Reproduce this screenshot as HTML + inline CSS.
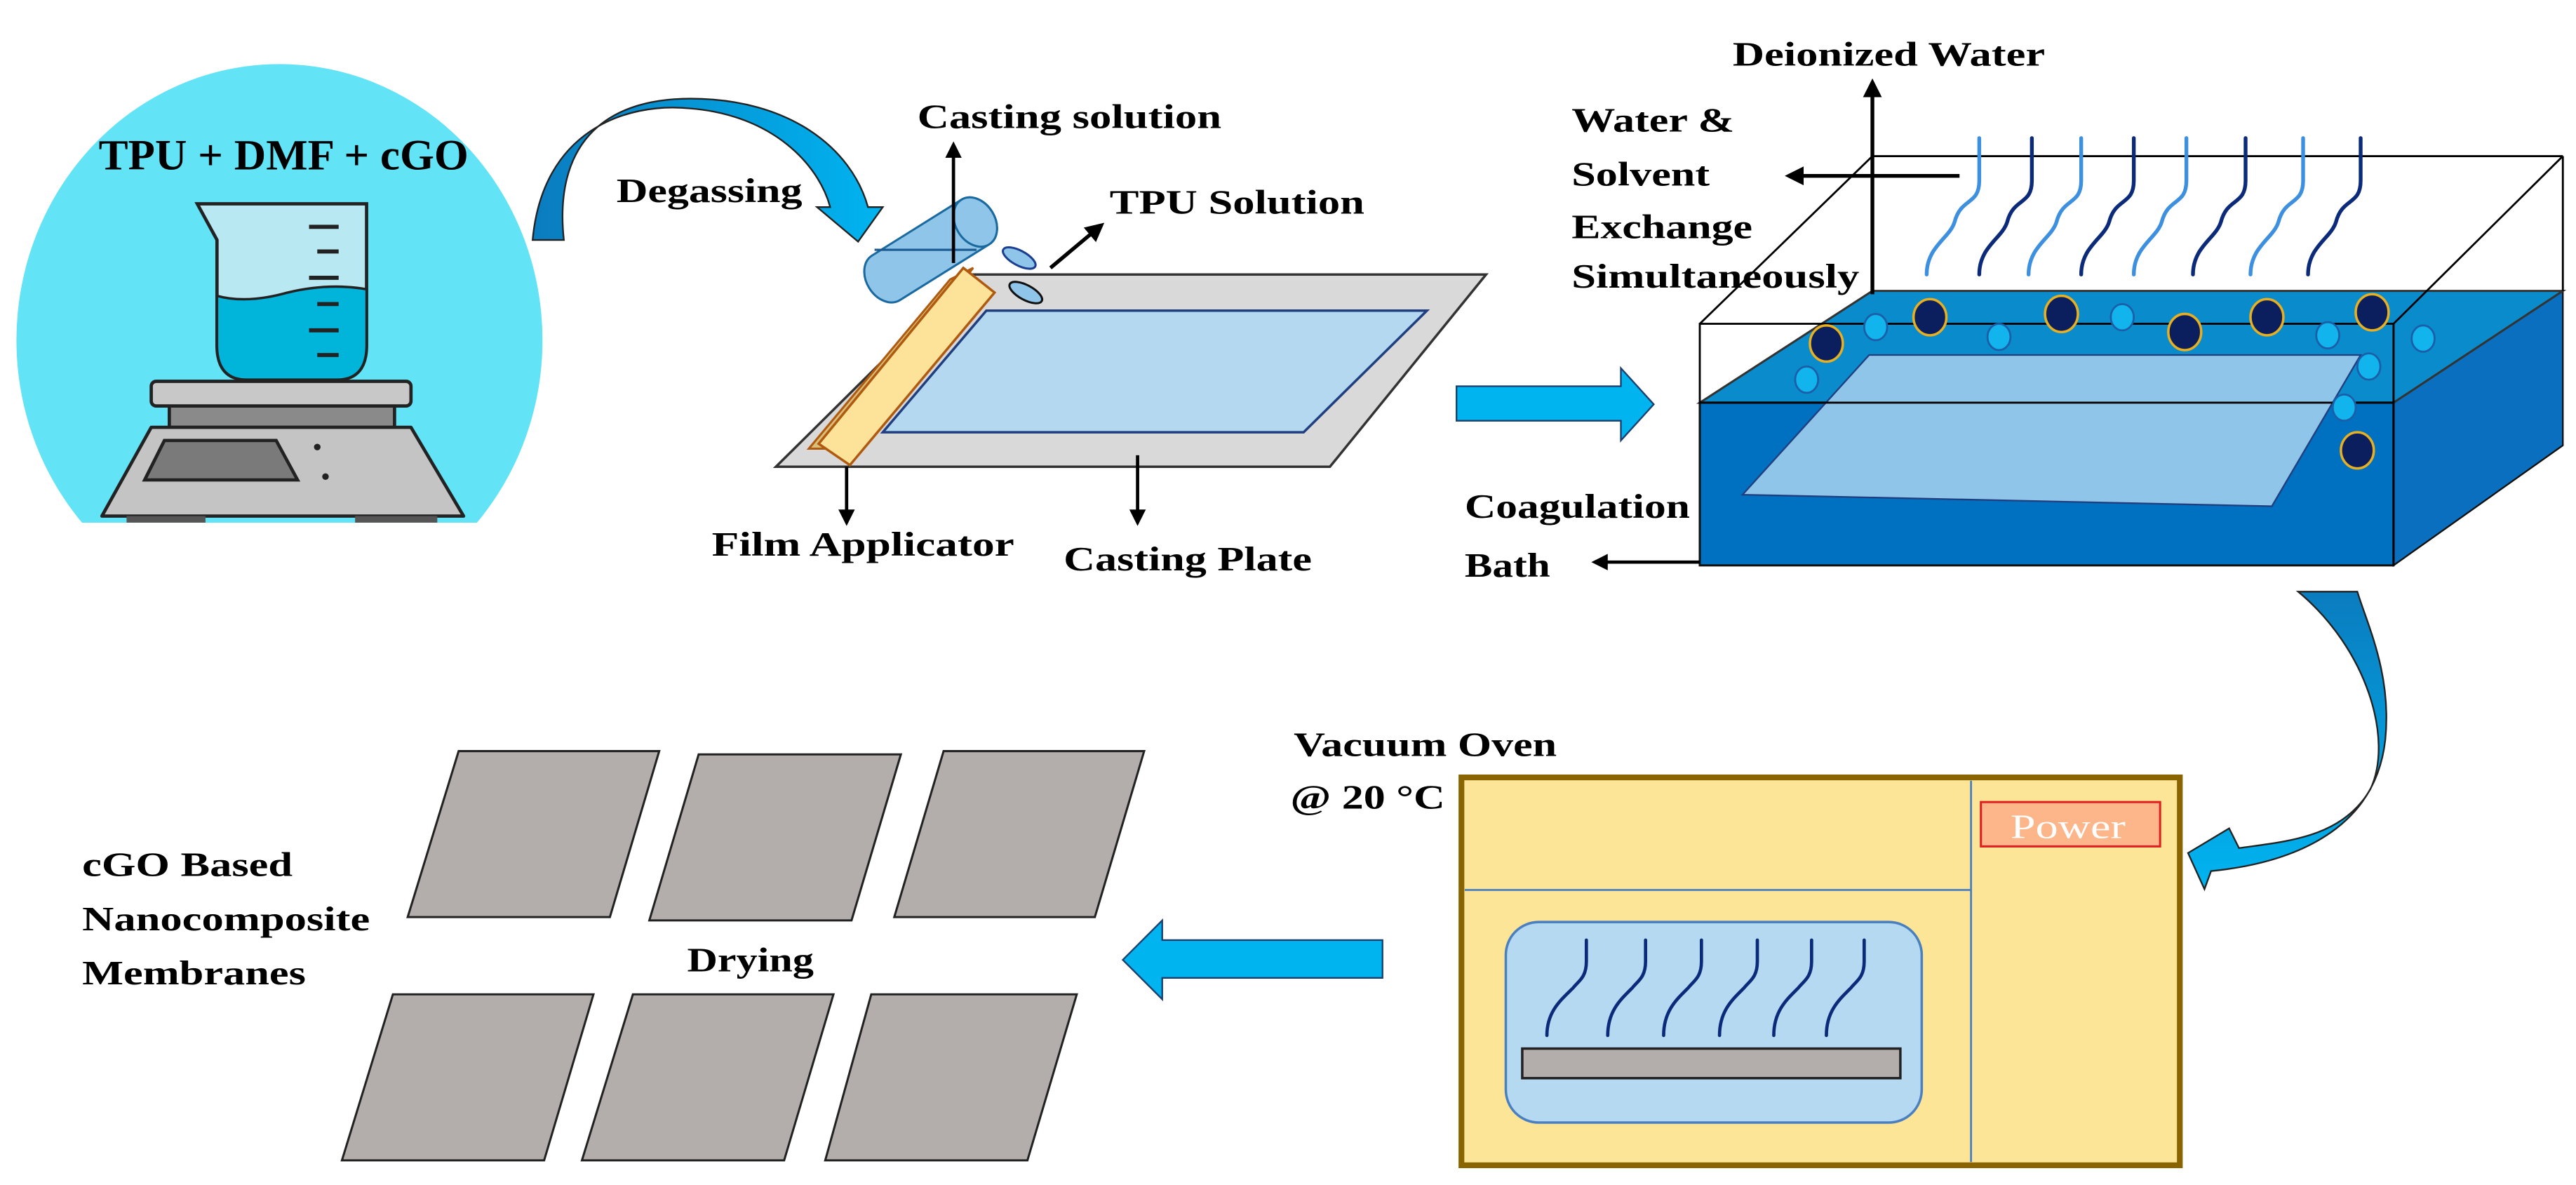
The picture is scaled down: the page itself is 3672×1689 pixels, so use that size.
<!DOCTYPE html>
<html><head><meta charset="utf-8"><style>
html,body{margin:0;padding:0;background:#fff;}
svg{display:block;}
text{font-family:"Liberation Serif",serif;font-weight:bold;fill:#000;}
</style></head><body>
<svg width="3672" height="1689" viewBox="0 0 1567 721" preserveAspectRatio="none" xmlns="http://www.w3.org/2000/svg">
<defs>
<marker id="ah" viewBox="0 0 10 10" refX="8" refY="5" markerWidth="5" markerHeight="5" orient="auto"><path d="M0,0 L10,5 L0,10 Z" fill="#000"/></marker>
<clipPath id="cc"><rect x="0" y="0" width="400" height="318"/></clipPath>
<linearGradient id="ga" x1="0" y1="0" x2="1" y2="0"><stop offset="0" stop-color="#0a7cbf"/><stop offset="1" stop-color="#00b4f0"/></linearGradient>
<linearGradient id="gb" x1="0" y1="0" x2="0" y2="1"><stop offset="0" stop-color="#0a7cbf"/><stop offset="1" stop-color="#00b4f0"/></linearGradient>
</defs>

<ellipse cx="170" cy="207" rx="160" ry="168" fill="#62e3f6" clip-path="url(#cc)"/>
<text x="60" y="103" font-size="26" textLength="225" lengthAdjust="spacingAndGlyphs">TPU + DMF + cGO</text>
<path d="M120,124 L223,124 L223,210 Q223,231 205,231 L150,231 Q132,231 132,210 L132,146 Z" fill="#b8e8f2" stroke="#222" stroke-width="2"/>
<path d="M132,180 Q150,185 175,178 Q200,172 223,176 L223,210 Q223,231 205,231 L150,231 Q132,231 132,210 Z" fill="#00b4da" stroke="#222" stroke-width="1.5"/>
<g stroke="#222" stroke-width="2.5">
<line x1="188" y1="138" x2="206" y2="138"/><line x1="193" y1="153" x2="206" y2="153"/><line x1="188" y1="169" x2="206" y2="169"/>
<line x1="193" y1="185" x2="206" y2="185"/><line x1="188" y1="201" x2="206" y2="201"/><line x1="193" y1="216" x2="206" y2="216"/>
</g>
<rect x="103" y="246" width="137" height="14" fill="#8a8a8a" stroke="#222" stroke-width="2"/>
<rect x="92" y="232" width="158" height="15" rx="3" fill="#c8c8c8" stroke="#222" stroke-width="2"/>
<path d="M92,260 L250,260 L282,314 L62,314 Z" fill="#c4c4c4" stroke="#222" stroke-width="2" stroke-linejoin="round"/>
<path d="M100,268 L168,268 L181,292 L88,292 Z" fill="#7a7a7a" stroke="#222" stroke-width="2"/>
<circle cx="193" cy="272" r="2" fill="#222"/><circle cx="198" cy="290" r="2" fill="#222"/>
<rect x="77" y="314" width="48" height="4" fill="#555"/><rect x="216" y="314" width="50" height="4" fill="#555"/>

<path d="M324,146 C330,80 380,62 420,66 C470,70 498,100 505,126 L497,126 L522,147 L537,126 L528,126 C518,90 480,60 420,60 C365,60 337,90 343,146 Z" fill="url(#ga)" stroke="#222" stroke-width="1"/>
<text x="375" y="123" font-size="21" textLength="113" lengthAdjust="spacingAndGlyphs">Degassing</text>

<polygon points="590,167 904,167 809,284 472,284" fill="#d9d9d9" stroke="#333" stroke-width="1.5"/>
<polygon points="600,189 868,189 793,263 537,263" fill="#b3d8ef" stroke="#1f3f80" stroke-width="1.5"/>
<polygon points="578,170 592,163 505,273 492,273" fill="#d9c07a" stroke="#b05a10" stroke-width="1.3"/>
<polygon points="586,163 605,178 517,283 498,270" fill="#fde39a" stroke="#b05a10" stroke-width="1.5"/>
<g transform="translate(539,169) rotate(-32)">
<path d="M0,-16 L64,-16 A12,16 0 0 1 64,16 L0,16 A12,16 0 0 1 0,-16 Z" fill="#8fc5e8" stroke="#1a6aa0" stroke-width="1.3"/>
<ellipse cx="64" cy="0" rx="12" ry="16" fill="#8fc5e8" stroke="#1a6aa0" stroke-width="1.3"/>
</g>
<line x1="532" y1="152" x2="594" y2="152" stroke="#1a5a90" stroke-width="1.3"/>
<ellipse cx="620" cy="157" rx="11" ry="4.5" transform="rotate(28 620 157)" fill="#8fc5e8" stroke="#1a3f90" stroke-width="1.3"/>
<ellipse cx="624" cy="178" rx="11" ry="4.5" transform="rotate(28 624 178)" fill="#8fc5e8" stroke="#111" stroke-width="1.3"/>
<line x1="580" y1="160" x2="580" y2="88" stroke="#000" stroke-width="2" marker-end="url(#ah)"/>
<line x1="639" y1="163" x2="670" y2="137" stroke="#000" stroke-width="2.3" marker-end="url(#ah)"/>
<line x1="515" y1="284" x2="515" y2="318" stroke="#000" stroke-width="2" marker-end="url(#ah)"/>
<line x1="692" y1="277" x2="692" y2="318" stroke="#000" stroke-width="2" marker-end="url(#ah)"/>
<text x="558" y="78" font-size="21" textLength="185" lengthAdjust="spacingAndGlyphs">Casting solution</text>
<text x="675" y="130" font-size="21" textLength="155" lengthAdjust="spacingAndGlyphs">TPU Solution</text>
<text x="433" y="338" font-size="21" textLength="184" lengthAdjust="spacingAndGlyphs">Film Applicator</text>
<text x="647" y="347" font-size="21" textLength="151" lengthAdjust="spacingAndGlyphs">Casting Plate</text>

<polygon points="886,235 986,235 986,224 1006,246 986,268 986,256 886,256" fill="#00b4f0" stroke="#1a3f6f" stroke-width="1"/>

<polygon points="1456,245 1559,177 1559,271 1456,344" fill="#0a6fbf" stroke="#111" stroke-width="1"/>
<polygon points="1139,177 1559,177 1456,245 1034,245" fill="#0a8ccc" stroke="#333" stroke-width="1.3"/>
<rect x="1034" y="245" width="422" height="99" fill="#0070c0" stroke="#111" stroke-width="1.3"/>
<polygon points="1137,216 1436,216 1382,308 1060,301" fill="#8fc5e8" stroke="#1f3f80" stroke-width="1"/>
<g fill="none" stroke="#000" stroke-width="1.2">
<line x1="1139" y1="95" x2="1559" y2="95"/>
<line x1="1139" y1="95" x2="1034" y2="197"/>
<line x1="1559" y1="95" x2="1456" y2="197"/>
<line x1="1559" y1="95" x2="1559" y2="177"/>
<rect x="1034" y="197" width="422" height="48"/>
<line x1="1456" y1="197" x2="1456" y2="344"/>
</g>
<g fill="none" stroke-width="2.3" stroke-linecap="round">
<path d="M1204,84 V110 C1204,125 1193,120 1189,135 C1186,145 1172,150 1172,167" stroke="#3d8fe0"/>
<path d="M1236,84 V110 C1236,125 1225,120 1221,135 C1218,145 1204,150 1204,167" stroke="#0b2a7a"/>
<path d="M1266,84 V110 C1266,125 1255,120 1251,135 C1248,145 1234,150 1234,167" stroke="#3d8fe0"/>
<path d="M1298,84 V110 C1298,125 1287,120 1283,135 C1280,145 1266,150 1266,167" stroke="#0b2a7a"/>
<path d="M1330,84 V110 C1330,125 1319,120 1315,135 C1312,145 1298,150 1298,167" stroke="#3d8fe0"/>
<path d="M1366,84 V110 C1366,125 1355,120 1351,135 C1348,145 1334,150 1334,167" stroke="#0b2a7a"/>
<path d="M1401,84 V110 C1401,125 1390,120 1386,135 C1383,145 1369,150 1369,167" stroke="#3d8fe0"/>
<path d="M1436,84 V110 C1436,125 1425,120 1421,135 C1418,145 1404,150 1404,167" stroke="#0b2a7a"/>
</g>
<g fill="#12b4ee" stroke="#1a5fa8" stroke-width="1.2">
<ellipse cx="1141" cy="199" rx="7" ry="8"/><ellipse cx="1216" cy="205" rx="7" ry="8"/><ellipse cx="1291" cy="193" rx="7" ry="8"/>
<ellipse cx="1416" cy="204" rx="7" ry="8"/><ellipse cx="1474" cy="206" rx="7" ry="8"/><ellipse cx="1099" cy="231" rx="7" ry="8"/>
<ellipse cx="1441" cy="223" rx="7" ry="8"/><ellipse cx="1426" cy="248" rx="7" ry="8"/>
</g>
<g fill="#0b1f5e" stroke="#e8b020" stroke-width="1.5">
<ellipse cx="1111" cy="209" rx="10" ry="11"/><ellipse cx="1174" cy="193" rx="10" ry="11"/><ellipse cx="1254" cy="191" rx="10" ry="11"/>
<ellipse cx="1329" cy="202" rx="10" ry="11"/><ellipse cx="1379" cy="193" rx="10" ry="11"/><ellipse cx="1443" cy="190" rx="10" ry="11"/>
<ellipse cx="1434" cy="274" rx="10" ry="11"/>
</g>
<line x1="1139" y1="179" x2="1139" y2="50" stroke="#000" stroke-width="2.3" marker-end="url(#ah)"/>
<line x1="1192" y1="107" x2="1088" y2="107" stroke="#000" stroke-width="2.3" marker-end="url(#ah)"/>
<line x1="1034" y1="342" x2="970" y2="342" stroke="#000" stroke-width="2" marker-end="url(#ah)"/>
<text x="1054" y="40" font-size="21" textLength="190" lengthAdjust="spacingAndGlyphs">Deionized Water</text>
<text x="956" y="80" font-size="21" textLength="99" lengthAdjust="spacingAndGlyphs">Water &amp;</text>
<text x="956" y="113" font-size="21" textLength="84" lengthAdjust="spacingAndGlyphs">Solvent</text>
<text x="956" y="145" font-size="21" textLength="110" lengthAdjust="spacingAndGlyphs">Exchange</text>
<text x="956" y="175" font-size="21" textLength="175" lengthAdjust="spacingAndGlyphs">Simultaneously</text>
<text x="891" y="315" font-size="21" textLength="137" lengthAdjust="spacingAndGlyphs">Coagulation</text>
<text x="891" y="351" font-size="21" textLength="52" lengthAdjust="spacingAndGlyphs">Bath</text>

<path d="M1398,360 C1440,395 1456,450 1442,480 C1425,510 1390,512 1362,516 L1356,504 L1331,519 L1341,541 L1345,530 C1395,525 1445,505 1451,450 C1455,410 1440,380 1434,360 Z" fill="url(#gb)" stroke="#222" stroke-width="1"/>

<rect x="889" y="473" width="437" height="236" fill="#fde598" stroke="#8a6400" stroke-width="3.5"/>
<line x1="1199" y1="475" x2="1199" y2="707" stroke="#4a80c0" stroke-width="1.2"/>
<line x1="891" y1="541.5" x2="1199" y2="541.5" stroke="#4a80c0" stroke-width="1.2"/>
<rect x="1205" y="488" width="109" height="27" fill="#fdb58a" stroke="#e02020" stroke-width="1.3"/>
<text x="1223" y="510" font-size="21" style="font-weight:normal;fill:#fff" textLength="70" lengthAdjust="spacingAndGlyphs">Power</text>
<rect x="916" y="561" width="253" height="122" rx="20" fill="#b5d9f0" stroke="#4a7fc0" stroke-width="1.5"/>
<rect x="926" y="638" width="230" height="18" fill="#b3aeab" stroke="#222" stroke-width="1.5"/>
<g fill="none" stroke="#0b2a7a" stroke-width="2" stroke-linecap="round">
<path d="M965,572 V585 C965,595 960,597 957,601 C950,608 941,615 941,630"/>
<path d="M1001,572 V585 C1001,595 996,597 993,601 C986,608 978,615 978,630"/>
<path d="M1035,572 V585 C1035,595 1030,597 1027,601 C1020,608 1012,615 1012,630"/>
<path d="M1069,572 V585 C1069,595 1064,597 1061,601 C1054,608 1046,615 1046,630"/>
<path d="M1102,572 V585 C1102,595 1097,597 1094,601 C1087,608 1079,615 1079,630"/>
<path d="M1134,572 V585 C1134,595 1129,597 1126,601 C1119,608 1111,615 1111,630"/>
</g>
<text x="787" y="460" font-size="21" textLength="160" lengthAdjust="spacingAndGlyphs">Vacuum Oven</text>
<text x="785" y="492" font-size="21" textLength="94" lengthAdjust="spacingAndGlyphs">@ 20 °C</text>

<polygon points="841,572 707,572 707,560 683,584 707,608 707,595 841,595" fill="#00b4f0" stroke="#1a3f6f" stroke-width="1"/>

<g fill="#b3aeab" stroke="#222" stroke-width="1.3">
<polygon points="279,457 401,457 371,558 248,558"/>
<polygon points="425,459 548,459 518,560 395,560"/>
<polygon points="574,457 696,457 666,558 544,558"/>
<polygon points="239,605 361,605 331,706 208,706"/>
<polygon points="385,605 507,605 477,706 354,706"/>
<polygon points="530,605 655,605 625,706 502,706"/>
</g>
<text x="50" y="533" font-size="21" textLength="128" lengthAdjust="spacingAndGlyphs">cGO Based</text>
<text x="50" y="566" font-size="21" textLength="175" lengthAdjust="spacingAndGlyphs">Nanocomposite</text>
<text x="50" y="599" font-size="21" textLength="136" lengthAdjust="spacingAndGlyphs">Membranes</text>
<text x="418" y="591" font-size="21" textLength="77" lengthAdjust="spacingAndGlyphs">Drying</text>
</svg>
</body></html>
